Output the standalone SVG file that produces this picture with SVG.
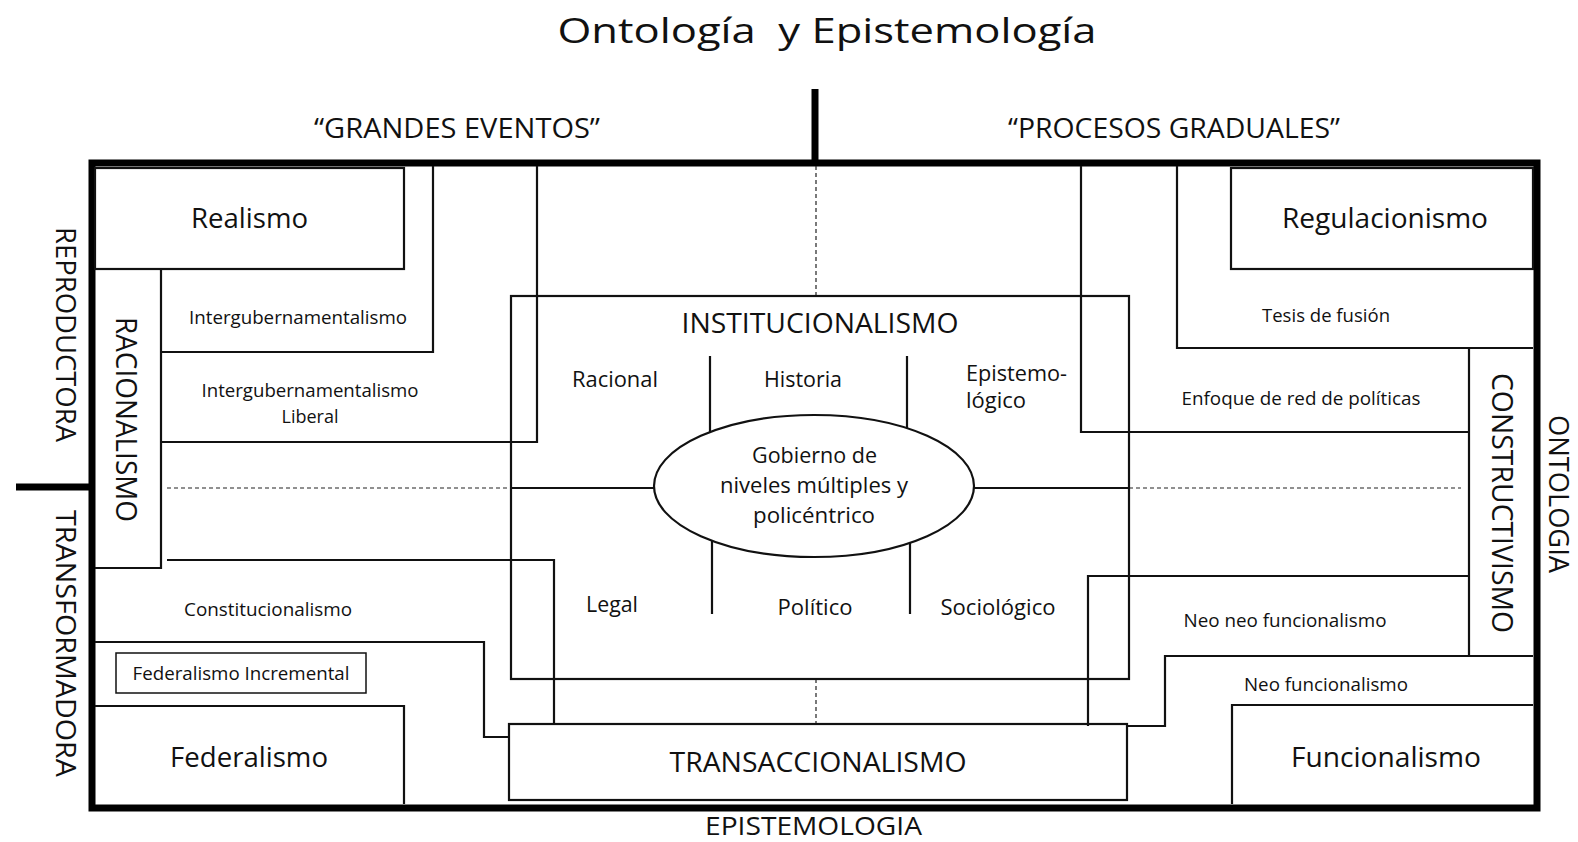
<svg xmlns="http://www.w3.org/2000/svg" width="1578" height="842" viewBox="0 0 1578 842">
<style>
.t{font-family:"Open Sans","Liberation Sans",sans-serif;fill:#111;text-anchor:middle}
.ln{fill:none;stroke:#111;stroke-width:2.2;stroke-linejoin:miter}
.thick{fill:none;stroke:#000;stroke-width:7}
.dash{fill:none;stroke:#222;stroke-width:1.2;stroke-dasharray:4 3}
.box{fill:none;stroke:#111;stroke-width:2.2}
</style>
<rect width="1578" height="842" fill="#fff"/>
<g id="title">
<text class="t" x="827" y="43" font-size="35" textLength="539" lengthAdjust="spacingAndGlyphs" xml:space="preserve">Ontología  y Epistemología</text>
</g>
<g id="axis-labels">
<text class="t" x="457" y="138" font-size="28" textLength="286" lengthAdjust="spacingAndGlyphs">“GRANDES EVENTOS”</text>
<text class="t" x="1174" y="138" font-size="28" textLength="332" lengthAdjust="spacingAndGlyphs">“PROCESOS GRADUALES”</text>
<text class="t" x="813.5" y="835" font-size="25" textLength="217" lengthAdjust="spacingAndGlyphs">EPISTEMOLOGIA</text>
<text class="t" transform="translate(66,334.5) rotate(90)" x="0" y="10" font-size="28" textLength="215" lengthAdjust="spacingAndGlyphs">REPRODUCTORA</text>
<text class="t" transform="translate(66,643.5) rotate(90)" x="0" y="10" font-size="28" textLength="267" lengthAdjust="spacingAndGlyphs">TRANSFORMADORA</text>
<text class="t" transform="translate(1559,494) rotate(90)" x="0" y="10" font-size="28" textLength="158" lengthAdjust="spacingAndGlyphs">ONTOLOGIA</text>
</g>
<g id="frame">
<rect class="thick" x="92" y="163" width="1445" height="645"/>
<line class="thick" x1="815" y1="89" x2="815" y2="163" stroke-width="6"/>
<line class="thick" x1="16" y1="487" x2="92" y2="487" stroke-width="6"/>
</g>
<g id="connectors">
<path class="dash" d="M167 488 H511 M1129 488 H1461 M816 166 V296 M816 679 V724"/>
<path class="ln" d="M511 488 H654 M974 488 H1129"/>
<path class="ln" d="M433 166 V352 H161"/>
<path class="ln" d="M537 166 V442 H161"/>
<path class="ln" d="M167 560 H554 V724"/>
<path class="ln" d="M95 642 H484 V737 H509"/>
<path class="ln" d="M1081 166 V432 H1469"/>
<path class="ln" d="M1177 166 V348 H1533"/>
<path class="ln" d="M1088 726 V576 H1469"/>
<path class="ln" d="M1127 726 H1165 V656 H1533"/>
<path class="ln" d="M710 356 V432 M907 356 V428 M712 541 V614 M910 543 V614"/>
</g>
<g id="realismo">
<rect class="box" x="95" y="168" width="309" height="101"/>
<text class="t" x="249.5" y="228" font-size="28" textLength="117" lengthAdjust="spacingAndGlyphs">Realismo</text>
</g>
<g id="racionalismo">
<path class="ln" d="M161 269 V568 H95"/>
<text class="t" transform="translate(126,419.5) rotate(90)" x="0" y="10.5" font-size="29" textLength="205" lengthAdjust="spacingAndGlyphs">RACIONALISMO</text>
</g>
<g id="intergubernamentalismo">
<text class="t" x="298" y="324" font-size="19" textLength="218" lengthAdjust="spacingAndGlyphs">Intergubernamentalismo</text>
</g>
<g id="intergubernamentalismo-liberal">
<text class="t" x="310" y="397" font-size="19" textLength="217" lengthAdjust="spacingAndGlyphs">Intergubernamentalismo</text>
<text class="t" x="310" y="423" font-size="19" textLength="57" lengthAdjust="spacingAndGlyphs">Liberal</text>
</g>
<g id="constitucionalismo">
<text class="t" x="268" y="616" font-size="19" textLength="168" lengthAdjust="spacingAndGlyphs">Constitucionalismo</text>
</g>
<g id="federalismo-incremental">
<rect x="116" y="653" width="250" height="40" fill="none" stroke="#111" stroke-width="1.5"/>
<text class="t" x="241" y="680" font-size="19" textLength="217" lengthAdjust="spacingAndGlyphs">Federalismo Incremental</text>
</g>
<g id="federalismo">
<path class="ln" d="M95 706 H404 V804"/>
<text class="t" x="249" y="767" font-size="28" textLength="158" lengthAdjust="spacingAndGlyphs">Federalismo</text>
</g>
<g id="institucionalismo">
<rect class="box" x="511" y="296" width="618" height="383"/>
<text class="t" x="820" y="333" font-size="28" textLength="277" lengthAdjust="spacingAndGlyphs">INSTITUCIONALISMO</text>
<text class="t" x="615" y="387" font-size="22" textLength="86" lengthAdjust="spacingAndGlyphs">Racional</text>
<text class="t" x="803" y="387" font-size="22" textLength="78" lengthAdjust="spacingAndGlyphs">Historia</text>
<text class="t" x="966" y="381" font-size="22" textLength="101" lengthAdjust="spacingAndGlyphs" style="text-anchor:start">Epistemo-</text>
<text class="t" x="966" y="408" font-size="22" textLength="60" lengthAdjust="spacingAndGlyphs" style="text-anchor:start">lógico</text>
<text class="t" x="612" y="612" font-size="22" textLength="52" lengthAdjust="spacingAndGlyphs">Legal</text>
<text class="t" x="815" y="615" font-size="22" textLength="75" lengthAdjust="spacingAndGlyphs">Político</text>
<text class="t" x="998" y="615" font-size="22" textLength="115" lengthAdjust="spacingAndGlyphs">Sociológico</text>
</g>
<g id="gobierno">
<ellipse cx="814" cy="486" rx="160" ry="71" fill="#fff" stroke="#111" stroke-width="2.2"/>
<text class="t" x="814.5" y="463" font-size="22" textLength="125" lengthAdjust="spacingAndGlyphs">Gobierno de</text>
<text class="t" x="814" y="493" font-size="22" textLength="188" lengthAdjust="spacingAndGlyphs">niveles múltiples y</text>
<text class="t" x="814" y="523" font-size="22" textLength="122" lengthAdjust="spacingAndGlyphs">policéntrico</text>
</g>
<g id="transaccionalismo">
<rect class="box" x="509" y="724" width="618" height="76"/>
<text class="t" x="818" y="772" font-size="28" textLength="297" lengthAdjust="spacingAndGlyphs">TRANSACCIONALISMO</text>
</g>
<g id="regulacionismo">
<rect class="box" x="1231" y="168" width="302" height="101"/>
<text class="t" x="1385" y="228" font-size="28" textLength="206" lengthAdjust="spacingAndGlyphs">Regulacionismo</text>
</g>
<g id="tesis-de-fusion">
<text class="t" x="1326" y="322" font-size="19" textLength="128" lengthAdjust="spacingAndGlyphs">Tesis de fusión</text>
</g>
<g id="enfoque-red">
<text class="t" x="1301" y="405" font-size="19" textLength="239" lengthAdjust="spacingAndGlyphs">Enfoque de red de políticas</text>
</g>
<g id="constructivismo">
<path class="ln" d="M1469 348 V656"/>
<text class="t" transform="translate(1502,503) rotate(90)" x="0" y="10.5" font-size="29" textLength="260" lengthAdjust="spacingAndGlyphs">CONSTRUCTIVISMO</text>
</g>
<g id="neo-neo-funcionalismo">
<text class="t" x="1285" y="627" font-size="19" textLength="203" lengthAdjust="spacingAndGlyphs">Neo neo funcionalismo</text>
</g>
<g id="neo-funcionalismo">
<text class="t" x="1326" y="691" font-size="19" textLength="164" lengthAdjust="spacingAndGlyphs">Neo funcionalismo</text>
</g>
<g id="funcionalismo">
<path class="ln" d="M1533 705 H1232 V804"/>
<text class="t" x="1386" y="767" font-size="28" textLength="190" lengthAdjust="spacingAndGlyphs">Funcionalismo</text>
</g>
</svg>
